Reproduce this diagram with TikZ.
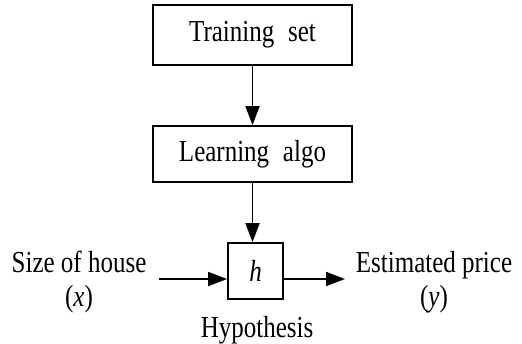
\documentclass[tikz,border=0pt]{standalone}
\usepackage{fontspec}
\usepackage{graphicx}
\setmainfont{Liberation Serif}
\usetikzlibrary{arrows.meta}
% slightly tall lettering
\newcommand\tall[1]{\scalebox{1}[1.22]{#1}}
\begin{document}
\begin{tikzpicture}[x=1pt,y=-1pt,
  every node/.style={font=\fontsize{25}{34}\selectfont, inner sep=0pt},
  block/.style={draw, line width=1.8pt, minimum height=#1},
  block/.default=56pt,
  label/.style={align=center},
  flow/.style={line width=1.8pt, -{Triangle[length=19pt,width=14pt]}}]
  \useasboundingbox (0,0) rectangle (522,343);

  % learning pipeline
  \node[block=60pt, minimum width=199pt] (train) at (252.5,35) {\raisebox{-2pt}{\tall{Training\hspace{0.55em}set}}};
  \node[block=56pt, minimum width=199pt] (learn) at (252.5,154) {\raisebox{-2pt}{\tall{Learning\hspace{0.55em}algo}}};
  \node[block=56pt, minimum width=55pt] (h) at (255.5,271) {\tall{\textit{h}}};

  % input and output labels
  \node[label] (size) at (79,282) {\tall{Size of house}\\\tall{(\textit{x})}};
  \node[label] (price) at (434,282) {\tall{Estimated price}\\\tall{(\textit{y})}};
  \node[anchor=base] (hyp) at (257,337) {\tall{Hypothesis}};

  \coordinate (in) at (159,279);
  \coordinate (out) at (345,279);

  \draw[flow] (train.south) -- (learn.north);
  \draw[flow] (learn.south) -- (learn.south |- h.north);
  \draw[flow] (in) -- (h.west |- in);
  \draw[flow] (h.east |- out) -- (out);
\end{tikzpicture}
\end{document}
